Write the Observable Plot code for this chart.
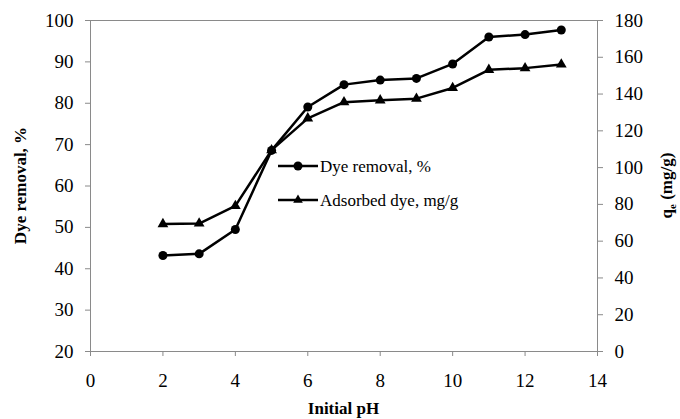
<!DOCTYPE html>
<html><head><meta charset="utf-8">
<script src="https://cdn.jsdelivr.net/npm/d3@7"></script>
<script src="https://cdn.jsdelivr.net/npm/@observablehq/plot@0.6"></script>
<style>body{margin:0;background:#fff} #wrap{position:relative;width:680px;height:419px}
#wrap svg, #wrap svg text { font-family: "Liberation Serif", "DejaVu Serif", serif !important; }</style>
</head><body><div id="wrap"></div>
<script>
const pH = [2, 3, 4, 5, 6, 7, 8, 9, 10, 11, 12, 13];
const dyeRemoval = [43.2, 43.6, 49.5, 68.6, 79.1, 84.5, 85.6, 86.0, 89.5, 96.0, 96.6, 97.7];
const adsorbedDye = [69.3, 69.6, 79.2, 109.5, 126.8, 135.6, 136.6, 137.5, 143.3, 153.2, 154.1, 156.1];
const xTicks = [0, 2, 4, 6, 8, 10, 12, 14];
const leftTicks = [20, 30, 40, 50, 60, 70, 80, 90, 100];
const rightTicks = [0, 20, 40, 60, 80, 100, 120, 140, 160, 180];
const seriesNames = ["Dye removal, %", "Adsorbed dye, mg/g"];
const xTitle = "Initial pH";
const leftTitle = "Dye removal, %";

const leftDomain = [20, 100], rightDomain = [0, 180];
const toLeft = v => leftDomain[0] + (v - rightDomain[0]) * (leftDomain[1] - leftDomain[0]) / (rightDomain[1] - rightDomain[0]);
const toRight = v => rightDomain[0] + (v - leftDomain[0]) * (rightDomain[1] - rightDomain[0]) / (leftDomain[1] - leftDomain[0]);

const s1 = pH.map((x, i) => ({x, y: dyeRemoval[i]}));
const s2 = pH.map((x, i) => ({x, y: toLeft(adsorbedDye[i])}));

const FONT = "Liberation Serif, DejaVu Serif, serif";
const plot = Plot.plot({
  width: 680, height: 419,
  marginLeft: 90, marginRight: 83, marginTop: 20, marginBottom: 68,
  style: {fontFamily: FONT, fontSize: "19px", color: "black", background: "white"},
  x: {domain: [0, 14]},
  y: {domain: leftDomain},
  marks: [
    Plot.frame({stroke: "#8a8a8a"}),
    Plot.axisX(xTicks, {tickSize: 5, tickPadding: 17, stroke: "#8a8a8a", fill: "black", label: null, fontSize: 19}),
    Plot.axisY(leftTicks, {anchor: "left", tickSize: 5, tickPadding: 12, stroke: "#8a8a8a", fill: "black", label: null, fontSize: 19}),
    Plot.axisY(rightTicks.map(toLeft), {anchor: "right", tickSize: 5, tickPadding: 12, stroke: "#8a8a8a", fill: "black", label: null, fontSize: 19,
      tickFormat: d => String(Math.round(toRight(d)))}),
    Plot.line(s2, {x: "x", y: "y", stroke: "black", strokeWidth: 2.5}),
    Plot.dot(s2, {x: "x", y: "y", symbol: "triangle", r: 4, fill: "black", stroke: "none"}),
    Plot.line(s1, {x: "x", y: "y", stroke: "black", strokeWidth: 2.5}),
    Plot.dot(s1, {x: "x", y: "y", r: 4.5, fill: "black", stroke: "none"})
  ]
});
document.getElementById("wrap").appendChild(plot);

const svg = d3.select(plot);
const xs = plot.scale("x"), ys = plot.scale("y");
const [x0, x1] = xs.range, [yb, yt] = ys.range;
const cx = (x0 + x1) / 2, cy = (yb + yt) / 2;

// axis titles
svg.append("text").attr("x", cx).attr("y", 414).attr("text-anchor", "middle")
  .attr("font-size", 17).attr("font-weight", "bold").text(xTitle);
svg.append("text").attr("transform", `translate(26,${cy}) rotate(-90)`).attr("text-anchor", "middle")
  .attr("font-size", 17).attr("font-weight", "bold").text(leftTitle);
const rt = svg.append("text").attr("transform", `translate(672,${cy}) rotate(-90)`).attr("text-anchor", "middle")
  .attr("font-size", 17).attr("font-weight", "bold");
rt.append("tspan").text("q");
rt.append("tspan").attr("font-size", 11).attr("dy", 4).text("e");
rt.append("tspan").attr("dy", -4).text(" (mg/g)");

// legend
const lg = svg.append("g").attr("font-size", 17).attr("text-anchor", "start");
seriesNames.forEach((name, i) => {
  const y = 166 + i * 34;
  lg.append("line").attr("x1", 278).attr("x2", 318).attr("y1", y).attr("y2", y).attr("stroke", "black").attr("stroke-width", 2.5);
  if (i === 0) lg.append("circle").attr("cx", 298).attr("cy", y).attr("r", 4.5).attr("fill", "black");
  else lg.append("path").attr("d", d3.symbol(d3.symbolTriangle, 40)()).attr("transform", `translate(298,${y})`).attr("fill", "black");
  lg.append("text").attr("x", 320).attr("y", y).attr("dy", "0.35em").attr("text-anchor", "start").text(name);
});
</script></body></html>
